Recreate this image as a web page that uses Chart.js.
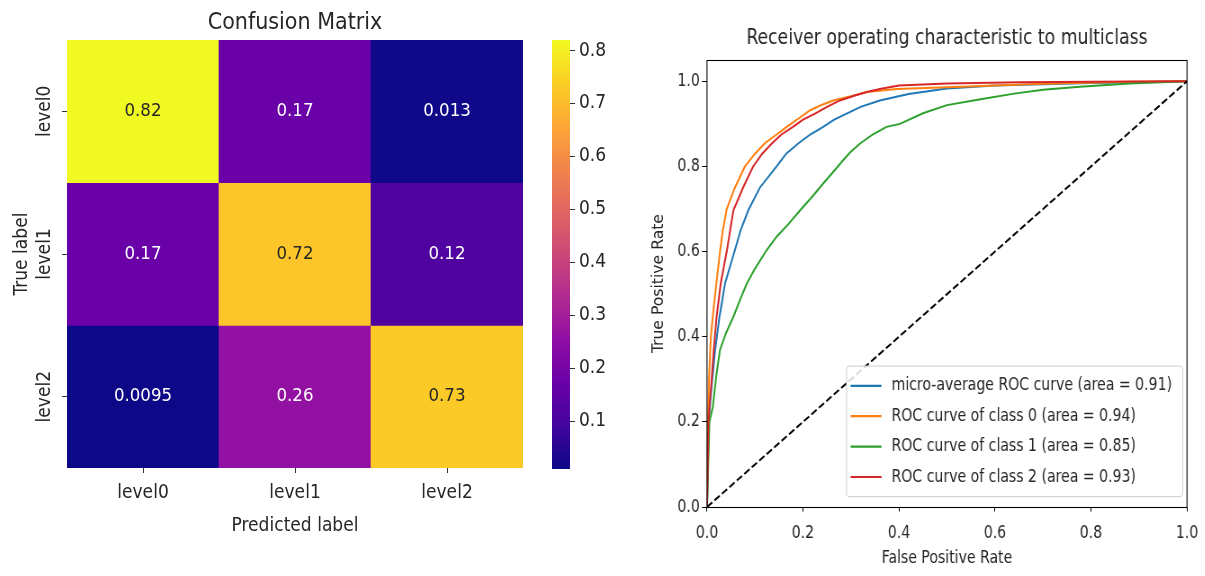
<!DOCTYPE html>
<html>
<head>
<meta charset="utf-8">
<script src="https://cdn.jsdelivr.net/npm/chart.js@4.4.1/dist/chart.umd.min.js"></script>
<style>
  html, body { margin: 0; padding: 0; background: #fff; }
  body { width: 1205px; height: 576px; position: relative; overflow: hidden; }
  canvas { position: absolute; top: 0; }
  #cm { left: 0; }
  #cb { left: 540px; }
  /* the right figure is a bit narrower than the left one in the original */
  #roc { left: 600px; transform: scaleX(0.9); transform-origin: 0 0; }
</style>
</head>
<body>
<canvas id="cm" width="540" height="576"></canvas>
<canvas id="cb" width="80" height="576"></canvas>
<canvas id="roc" width="677" height="576"></canvas>
<script>
// confusion matrix (rows = true label, columns = predicted label)
const classes = ['level0', 'level1', 'level2'];
const rowLevel0 = [0.82, 0.17, 0.013];
const rowLevel1 = [0.17, 0.72, 0.12];
const rowLevel2 = [0.0095, 0.26, 0.73];
const cbTicks = [0.1, 0.2, 0.3, 0.4, 0.5, 0.6, 0.7, 0.8];

// ROC curves, [fpr, tpr]
const rocMicro = [[0, 0], [0.004, 0.21], [0.01, 0.29], [0.017, 0.37], [0.026, 0.447], [0.0375, 0.525], [0.058, 0.603], [0.07, 0.65], [0.086, 0.697], [0.11, 0.75], [0.145, 0.8], [0.165, 0.83], [0.19, 0.854], [0.215, 0.875], [0.242, 0.893], [0.265, 0.91], [0.291, 0.924], [0.32, 0.94], [0.36, 0.955], [0.42, 0.97], [0.5, 0.983], [0.6, 0.99], [0.8, 0.996], [1, 1]];
const rocClass0 = [[0, 0], [0.002, 0.2], [0.004, 0.3], [0.008, 0.4], [0.014, 0.47], [0.02, 0.53], [0.027, 0.6], [0.033, 0.65], [0.041, 0.7], [0.058, 0.75], [0.079, 0.8], [0.1, 0.83], [0.121, 0.855], [0.145, 0.875], [0.166, 0.893], [0.19, 0.912], [0.215, 0.932], [0.24, 0.945], [0.263, 0.955], [0.3, 0.965], [0.333, 0.975], [0.395, 0.982], [0.5, 0.986], [0.6, 0.99], [0.7, 0.994], [0.88, 0.999], [1, 1]];
const rocClass1 = [[0, 0], [0.005, 0.2], [0.012, 0.235], [0.02, 0.314], [0.027, 0.369], [0.04, 0.41], [0.055, 0.447], [0.07, 0.49], [0.083, 0.525], [0.1, 0.56], [0.124, 0.603], [0.145, 0.635], [0.17, 0.665], [0.194, 0.697], [0.22, 0.73], [0.242, 0.76], [0.265, 0.79], [0.284, 0.815], [0.3, 0.835], [0.319, 0.854], [0.345, 0.875], [0.374, 0.893], [0.402, 0.9], [0.45, 0.925], [0.5, 0.944], [0.57, 0.958], [0.64, 0.971], [0.7, 0.98], [0.777, 0.987], [0.88, 0.995], [1, 1]];
const rocClass2 = [[0, 0], [0.003, 0.2], [0.006, 0.25], [0.009, 0.29], [0.014, 0.37], [0.02, 0.447], [0.0285, 0.525], [0.041, 0.6], [0.055, 0.697], [0.075, 0.75], [0.096, 0.8], [0.115, 0.83], [0.135, 0.854], [0.155, 0.875], [0.179, 0.893], [0.2, 0.91], [0.225, 0.924], [0.25, 0.94], [0.277, 0.955], [0.31, 0.967], [0.333, 0.975], [0.36, 0.982], [0.4, 0.99], [0.5, 0.995], [0.65, 0.998], [0.8, 0.999], [1, 1]];
const chanceLine = [[0, 0], [1, 1]];
const aucMicro = 0.91, aucClass0 = 0.94, aucClass1 = 0.85, aucClass2 = 0.93;
const rocTicksX = [0, 0.2, 0.4, 0.6, 0.8, 1.0];
const rocTicksY = [0, 0.2, 0.4, 0.6, 0.8, 1.0];

const FONT = '"DejaVu Sans Condensed", "Liberation Sans Narrow", "DejaVu Sans", sans-serif';
const TEXT = '#262626';
Chart.defaults.font.family = FONT;
Chart.defaults.color = TEXT;

// plasma colormap, sampled at 0, 0.1, ..., 1
const plasmaStops = ['#0d0887', '#41049d', '#6a00a8', '#8f0da4', '#b12a90', '#cc4778', '#e16462', '#f2844b', '#fca636', '#fcce25', '#f0f921'];
function hexToRgb(h) {
    return [1, 3, 5].map(i => parseInt(h.slice(i, i + 2), 16));
}
function plasmaRgb(t) {
    t = Math.max(0, Math.min(1, t));
    const p = t * (plasmaStops.length - 1);
    const i = Math.min(Math.floor(p), plasmaStops.length - 2);
    const f = p - i;
    const a = hexToRgb(plasmaStops[i]), b = hexToRgb(plasmaStops[i + 1]);
    return a.map((c, k) => Math.round(c + (b[k] - c) * f));
}
function luminance(rgb) {
    const lin = rgb.map(c => {
        c /= 255;
        return c <= 0.03928 ? c / 12.92 : Math.pow((c + 0.055) / 1.055, 2.4);
    });
    return 0.2126 * lin[0] + 0.7152 * lin[1] + 0.0722 * lin[2];
}

const cmRows = [rowLevel0, rowLevel1, rowLevel2];
const allValues = cmRows.flat();
const cbMin = Math.min(...allValues);
const cbMax = Math.max(...allValues);
const norm = v => (v - cbMin) / (cbMax - cbMin);

// ---------- heatmap ----------
// each true-label row is a floating bar dataset spanning [row, row + 1]
const cmDatasets = cmRows.map((row, r) => ({
    label: classes[r],
    data: row.map(() => [r, r + 1]),
    values: row,
    backgroundColor: row.map(v => 'rgb(' + plasmaRgb(norm(v)).join(',') + ')'),
    borderWidth: 0,
    grouped: false,
    barPercentage: 1,
    categoryPercentage: 1
}));

const cellText = {
    id: 'cellText',
    afterDatasetsDraw(chart) {
        const ctx = chart.ctx;
        ctx.save();
        ctx.font = '18.5px ' + FONT;
        ctx.textAlign = 'center';
        ctx.textBaseline = 'middle';
        chart.data.datasets.forEach((ds, i) => {
            chart.getDatasetMeta(i).data.forEach((bar, j) => {
                const v = ds.values[j];
                const p = bar.getCenterPoint();
                ctx.fillStyle = luminance(plasmaRgb(norm(v))) > 0.408 ? TEXT : '#ffffff';
                ctx.fillText(String(Number(v.toPrecision(2))), p.x, p.y);
            });
        });
        ctx.restore();
    }
};

// rotated row labels like seaborn
const rowLabels = {
    id: 'rowLabels',
    afterDraw(chart) {
        const ctx = chart.ctx;
        const y = chart.scales.y;
        ctx.save();
        ctx.font = '19px ' + FONT;
        ctx.fillStyle = TEXT;
        ctx.textAlign = 'center';
        ctx.textBaseline = 'middle';
        classes.forEach((c, i) => {
            ctx.save();
            ctx.translate(chart.chartArea.left - 21.5, y.getPixelForValue(i + 0.5));
            ctx.rotate(-Math.PI / 2);
            ctx.fillText(c, 0, 0);
            ctx.restore();
        });
        ctx.restore();
    }
};

new Chart(document.getElementById('cm'), {
    type: 'bar',
    data: { labels: classes, datasets: cmDatasets },
    options: {
        responsive: false,
        animation: false,
        layout: { padding: { left: 0, right: 17, top: 0, bottom: 38 } },
        plugins: {
            legend: { display: false },
            tooltip: { enabled: false },
            title: {
                display: true,
                text: 'Confusion Matrix',
                fullSize: false,
                color: TEXT,
                font: { size: 23, weight: 'normal', lineHeight: 1 },
                padding: { top: 11.5, bottom: 5.5 }
            }
        },
        scales: {
            x: {
                grid: { offset: false, drawOnChartArea: false, drawTicks: true, tickLength: 5, color: '#333' },
                border: { display: false },
                ticks: { font: { size: 19 }, padding: 9, color: TEXT },
                title: { display: true, text: 'Predicted label', font: { size: 19 }, color: TEXT, padding: { top: 0, bottom: 1 } },
                afterFit: s => { s.height = 70; }
            },
            y: {
                type: 'linear',
                min: 0,
                max: 3,
                reverse: true,
                afterBuildTicks: s => { s.ticks = classes.map((c, i) => ({ value: i + 0.5 })); },
                ticks: { display: false },
                grid: { drawOnChartArea: false, drawTicks: true, tickLength: 5, color: '#333' },
                border: { display: false },
                title: { display: true, text: 'True label', font: { size: 19 }, color: TEXT, padding: { top: 10.6, bottom: 4 } },
                afterFit: s => { s.width = 67; }
            }
        }
    },
    plugins: [cellText, rowLabels]
});

// ---------- colorbar ----------
new Chart(document.getElementById('cb'), {
    type: 'bar',
    data: {
        labels: [''],
        datasets: [{
            data: [[cbMin, cbMax]],
            borderWidth: 0,
            barPercentage: 1,
            categoryPercentage: 1,
            backgroundColor(c) {
                const ch = c.chart;
                if (!ch.chartArea) return null;
                const y = ch.scales.y;
                const g = ch.ctx.createLinearGradient(0, y.getPixelForValue(cbMin), 0, y.getPixelForValue(cbMax));
                plasmaStops.forEach((col, i) => g.addColorStop(i / (plasmaStops.length - 1), col));
                return g;
            }
        }]
    },
    options: {
        responsive: false,
        animation: false,
        layout: { padding: { left: 12, right: 0, top: 40, bottom: 107 } },
        plugins: { legend: { display: false }, tooltip: { enabled: false } },
        scales: {
            x: { display: false },
            y: {
                position: 'right',
                min: cbMin,
                max: cbMax,
                afterBuildTicks: s => { s.ticks = cbTicks.map(v => ({ value: v })); },
                ticks: { callback: v => v.toFixed(1), font: { size: 19 }, padding: 4, color: TEXT },
                grid: { drawOnChartArea: false, drawTicks: true, tickLength: 5, color: '#333' },
                border: { display: false },
                afterFit: s => { s.width = 50; }
            }
        }
    }
});

// ---------- ROC ----------
// canvas units here are page px / 0.9 horizontally (see the css transform)
const toXY = arr => arr.map(p => ({ x: p[0], y: p[1] }));

const frame = {
    id: 'frame',
    afterDraw(chart) {
        const { ctx, chartArea: a } = chart;
        ctx.save();
        ctx.strokeStyle = '#000';
        ctx.lineWidth = 1.1;
        ctx.strokeRect(a.left, Math.round(a.top) + 0.5, a.right - a.left, Math.round(a.bottom - a.top));
        ctx.restore();
    }
};

const rocLegend = {
    id: 'rocLegend',
    afterDraw(chart) {
        const { ctx, chartArea: a } = chart;
        const items = chart.data.datasets.filter(d => d.inLegend);
        ctx.save();
        ctx.font = '17.4px ' + FONT;
        const textW = Math.max(...items.map(d => ctx.measureText(d.label).width));
        const rowH = 30.4, handle = 34.4, gap = 11.1, padL = 4.4, padR = 11.9, padY = 4.5;
        const w = padL + handle + gap + textW + padR;
        const h = items.length * rowH + padY * 2;
        const x0 = a.right - 4.8 - w;
        const y0 = a.bottom - 10.3 - h;
        ctx.fillStyle = 'rgba(255,255,255,0.85)';
        ctx.strokeStyle = '#cccccc';
        ctx.lineWidth = 1;
        ctx.beginPath();
        ctx.roundRect(x0, y0, w, h, 3);
        ctx.fill();
        ctx.stroke();
        ctx.textBaseline = 'middle';
        ctx.textAlign = 'left';
        items.forEach((d, i) => {
            const cy = y0 + padY + rowH * (i + 0.5);
            ctx.strokeStyle = d.borderColor;
            ctx.lineWidth = 2.2;
            ctx.beginPath();
            ctx.moveTo(x0 + padL, cy);
            ctx.lineTo(x0 + padL + handle, cy);
            ctx.stroke();
            ctx.fillStyle = TEXT;
            ctx.fillText(d.label, x0 + padL + handle + gap, cy);
        });
        ctx.restore();
    }
};

const lineDefaults = { borderWidth: 2, pointRadius: 0, tension: 0, fill: false, inLegend: true };

new Chart(document.getElementById('roc'), {
    type: 'line',
    data: {
        datasets: [
            { ...lineDefaults, label: 'micro-average ROC curve (area = ' + aucMicro.toFixed(2) + ')', data: toXY(rocMicro), borderColor: '#1f77b4', order: 5 },
            { ...lineDefaults, label: 'ROC curve of class 0 (area = ' + aucClass0.toFixed(2) + ')', data: toXY(rocClass0), borderColor: '#ff7f0e', order: 4 },
            { ...lineDefaults, label: 'ROC curve of class 1 (area = ' + aucClass1.toFixed(2) + ')', data: toXY(rocClass1), borderColor: '#2ca02c', order: 3 },
            { ...lineDefaults, label: 'ROC curve of class 2 (area = ' + aucClass2.toFixed(2) + ')', data: toXY(rocClass2), borderColor: '#d62728', order: 2 },
            { label: 'chance', data: toXY(chanceLine), borderColor: '#000', borderWidth: 2, borderDash: [7.4, 3.2], pointRadius: 0, fill: false, inLegend: false, order: 1 }
        ]
    },
    options: {
        responsive: false,
        animation: false,
        // right padding is at least the half-label + tick padding Chart.js reserves for "1.0"
        layout: { padding: { left: 50, right: 24.8, top: 0, bottom: 0 } },
        plugins: {
            legend: { display: false },
            tooltip: { enabled: false },
            title: {
                display: true,
                text: 'Receiver operating characteristic to multiclass',
                fullSize: false,
                color: TEXT,
                font: { size: 21.3, weight: 'normal', lineHeight: 1 },
                padding: { top: 27.4, bottom: 11.3 }
            }
        },
        scales: {
            x: {
                type: 'linear',
                min: 0,
                max: 1,
                afterBuildTicks: s => { s.ticks = rocTicksX.map(v => ({ value: v })); },
                ticks: { callback: v => v.toFixed(1), font: { size: 17.4 }, padding: 11.5, maxRotation: 0, color: TEXT },
                grid: { drawOnChartArea: false, drawTicks: true, tickLength: 4.5, color: '#000' },
                border: { display: false },
                title: { display: true, text: 'False Positive Rate', font: { size: 17.4 }, color: TEXT, padding: { top: 0, bottom: 6.6 } },
                afterFit: s => { s.height = 69; }
            },
            y: {
                type: 'linear',
                min: 0,
                max: 1.05,
                afterBuildTicks: s => { s.ticks = rocTicksY.map(v => ({ value: v })); },
                ticks: { callback: v => v.toFixed(1), font: { size: 17.4 }, padding: 2.5, color: TEXT },
                grid: { drawOnChartArea: false, drawTicks: true, tickLength: 5.5, color: '#000' },
                border: { display: false },
                title: { display: true, text: 'True Positive Rate', font: { size: 17.4 }, color: TEXT, padding: { top: 5.2, bottom: 4 } },
                afterFit: s => { s.width = 68.9; }
            }
        }
    },
    plugins: [frame, rocLegend]
});
</script>
</body>
</html>
